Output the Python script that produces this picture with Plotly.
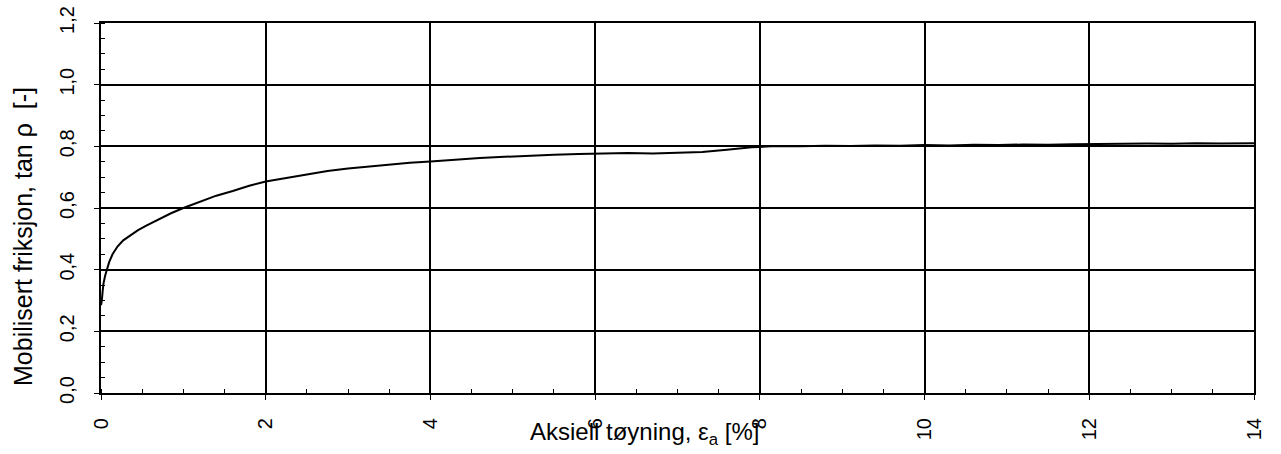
import plotly.graph_objects as go

# Axial strain [%] and mobilised friction tan(rho) [-]
strain = [0.0, 0.01, 0.02, 0.03, 0.05, 0.07, 0.10, 0.14, 0.20, 0.27, 0.35, 0.45,
          0.55, 0.70, 0.85, 1.00, 1.20, 1.40, 1.60, 1.80, 2.00, 2.25, 2.50, 2.75,
          3.00, 3.25, 3.50, 3.75, 4.00, 4.30, 4.60, 4.90, 5.20, 5.50, 5.80, 6.10,
          6.40, 6.70, 7.00, 7.30, 7.60, 7.90, 8.20, 8.50, 8.80, 9.10, 9.40, 9.70,
          10.00, 10.30, 10.60, 10.90, 11.20, 11.50, 11.80, 12.10, 12.40, 12.70,
          13.00, 13.30, 13.60, 13.90, 14.00]
friction = [0.285, 0.300, 0.330, 0.355, 0.380, 0.400, 0.425, 0.450, 0.475, 0.495,
            0.510, 0.528, 0.543, 0.563, 0.583, 0.600, 0.620, 0.640, 0.655, 0.672,
            0.686, 0.698, 0.710, 0.720, 0.728, 0.735, 0.741, 0.747, 0.751, 0.757,
            0.762, 0.766, 0.770, 0.773, 0.775, 0.777, 0.778, 0.777, 0.780, 0.782,
            0.789, 0.797, 0.801, 0.800, 0.802, 0.801, 0.803, 0.802, 0.804, 0.803,
            0.805, 0.804, 0.806, 0.805, 0.807, 0.808, 0.807, 0.809, 0.808, 0.810,
            0.809, 0.811, 0.810]

x_ticks = [0, 2, 4, 6, 8, 10, 12, 14]
y_ticks = [0.0, 0.2, 0.4, 0.6, 0.8, 1.0, 1.2]

FONT = "Liberation Sans, Arial, sans-serif"

fig = go.Figure()
fig.add_trace(go.Scatter(
    x=strain, y=friction, mode="lines",
    line=dict(color="black", width=2),
    showlegend=False, hoverinfo="skip",
))

axis_common = dict(
    showgrid=True, gridcolor="black", gridwidth=2,
    showline=True, linecolor="black", linewidth=2, mirror=True,
    zeroline=False, automargin=False,
    ticks="outside", ticklen=5, tickcolor="black", tickwidth=1,
    tickfont=dict(family=FONT, size=20, color="black"),
    tickangle=-90,
)

fig.update_xaxes(
    range=[0, 14], tickvals=x_ticks, ticktext=[str(v) for v in x_ticks],
    ticklabelstandoff=10,
    minor=dict(dtick=0.5, tick0=0, ticks="inside", ticklen=4,
               tickcolor="black", showgrid=False),
    **axis_common,
)
fig.update_yaxes(
    range=[0, 1.2], tickvals=y_ticks,
    ticktext=[f"{v:.1f}".replace(".", ",") for v in y_ticks],
    ticklabelstandoff=12,
    minor=dict(dtick=0.05, tick0=0, ticks="inside", ticklen=4,
               tickcolor="black", showgrid=False),
    **axis_common,
)

fig.add_annotation(
    text="Aksiell tøyning, ε<sub>a</sub> [%]",
    xref="paper", yref="paper", x=(644 - 101) / 1153, y=(393 - 433) / 370,
    xanchor="center", yanchor="middle", showarrow=False,
    font=dict(family=FONT, size=24, color="black"),
)
fig.add_annotation(
    text="Mobilisert friksjon, tan ρ  [-]",
    xref="paper", yref="paper", x=(23 - 101) / 1153, y=(393 - 237) / 370,
    xanchor="center", yanchor="middle", textangle=-90, showarrow=False,
    font=dict(family=FONT, size=25, color="black"),
)

fig.update_layout(
    width=1281, height=454,
    margin=dict(l=101, r=27, t=23, b=61),
    paper_bgcolor="white", plot_bgcolor="white",
)

fig.write_html("out.html")
